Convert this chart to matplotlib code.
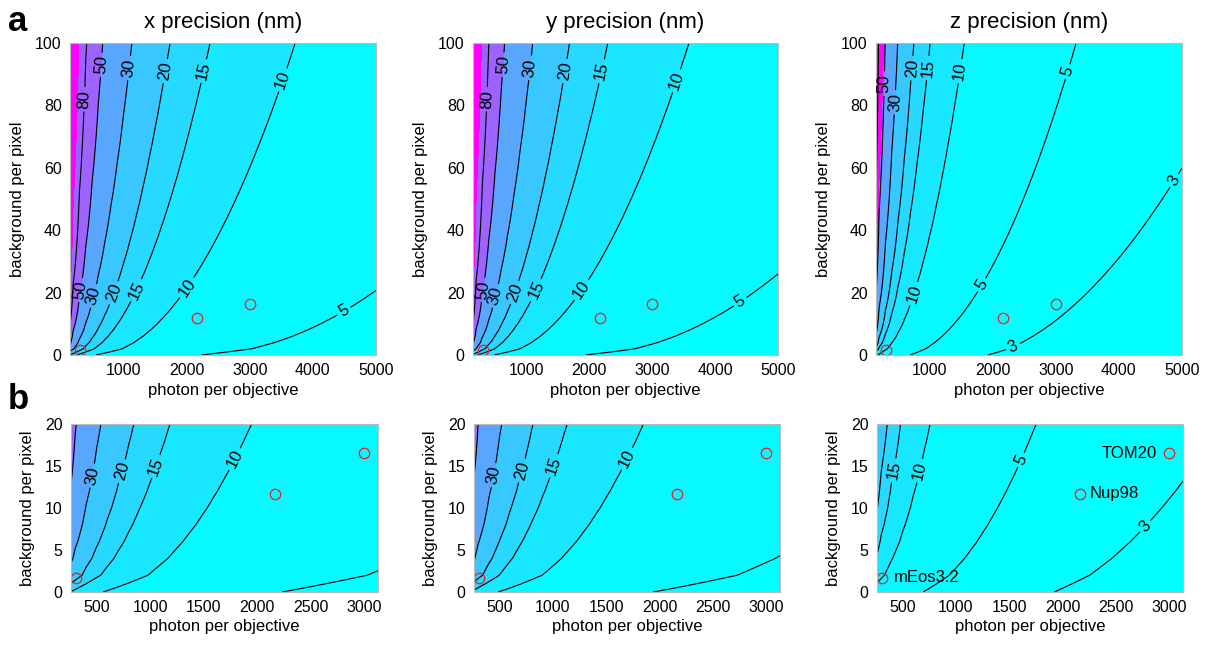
import numpy as np
import matplotlib
matplotlib.use('Agg')
import matplotlib.pyplot as plt

plt.rcParams['font.family'] = ['Liberation Sans', 'DejaVu Sans']

# grid used for the CRLB maps
photons = np.arange(100, 5001, 100)
background = np.arange(0, 101, 2)

# per-axis CRLB model: var = A/N * (1 + 4t + c*sqrt(2t/(1+4t))), t = k*b/N
axis_names = ['x', 'y', 'z']
signal_term = [55800, 48500, 17300]
bg_coupling = [46.7, 51.4, 30.0]
shot_mix = [1.0, 1.0, 0.3]
magenta_from = [115, 115, 56]

levels = [3, 5, 10, 15, 20, 30, 50, 80]

# measured probes
sample_names = ['mEos3.2', 'Nup98', 'TOM20']
sample_photons = [310, 2165, 3000]
sample_background = [1.7, 11.7, 16.5]

# where the contour labels go, (photons, background)
labels_top = [
    [(328, 82), (620, 93), (1072, 92), (1657, 91), (2268, 91), (3542, 88),
     (274, 21), (514, 19), (833, 20), (1178, 21), (1975, 22), (4447, 15.5)],
    [(368, 82), (632, 93), (1079, 92), (1605, 91), (2184, 91), (3368, 88),
     (263, 21), (500, 19), (816, 20), (1132, 21), (1868, 21), (4368, 18)],
    [(279, 87), (462, 81), (698, 92), (961, 92), (1475, 91), (3164, 91),
     (4870, 56), (701, 20), (1823, 22.5), (2321, 2.7)],
]
labels_bottom = [
    [(441, 13.9), (705, 14.5), (1017, 15.1), (1748, 16.1)],
    [(445, 13.9), (697, 14.5), (998, 15.1), (1658, 16.1)],
    [(408, 14.5), (638, 14.5), (1617, 15.7), (2780, 7.8)],
]


def precision(A, k, c):
    N, B = np.meshgrid(photons, background)
    t = k * B / N
    var = A / N * (1 + 4 * t + c * np.sqrt(2 * t / (1 + 4 * t)))
    return N, B, np.sqrt(var)


def band_fill(top):
    # bands take the 'cool' colour of their lower level; everything above
    # 50 stays purple until the magenta cap
    cmap = plt.get_cmap('cool')
    bounds = sorted(set(levels + [top]))
    bounds = [0] + bounds + [1e6]
    colors = []
    for lo in bounds[:-1]:
        if lo >= top:
            colors.append('#ff00ff')
        else:
            colors.append(cmap(np.clip((min(lo, 50) - 3) / 77.0, 0, 1)))
    return bounds, colors


fig = plt.figure(figsize=(12.11, 6.49), dpi=100)
W, H = 1211.0, 649.0
top_boxes = [(70, 43, 306, 312), (473, 43, 305, 312), (876, 43, 306, 312)]
bot_boxes = [(71, 424, 307, 168), (474, 424, 306, 168), (877, 424, 306, 168)]


def make_ax(box):
    x, y, w, h = box
    return fig.add_axes([x / W, 1 - (y + h) / H, w / W, h / H])


def style(ax):
    ax.tick_params(length=0, labelsize=11.5, pad=6)
    for s in ax.spines.values():
        s.set_color('#bbbbbb')
        s.set_linewidth(0.8)
    ax.set_xlabel('photon per objective', fontsize=12, labelpad=3)
    ax.set_ylabel('background per pixel', fontsize=12, labelpad=7)


for i, name in enumerate(axis_names):
    N, B, Z = precision(signal_term[i], bg_coupling[i], shot_mix[i])
    bounds, colors = band_fill(magenta_from[i])

    for row, box in enumerate([top_boxes[i], bot_boxes[i]]):
        ax = make_ax(box)
        ax.contourf(N, B, Z, levels=bounds, colors=colors)
        cs = ax.contour(N, B, Z, levels=levels, colors='k', linewidths=0.8)
        ax.plot(sample_photons, sample_background, 'o', mfc='none',
                mec='#e8202a', ms=7.5, mew=0.9)
        if row == 0:
            ax.set_xlim(150, 5000)
            ax.set_ylim(0, 100)
            ax.set_xticks([1000, 2000, 3000, 4000, 5000])
            ax.set_yticks([0, 20, 40, 60, 80, 100])
            ax.set_title(f'{name} precision (nm)', fontsize=16, pad=11)
            manual = labels_top[i]
        else:
            ax.set_xlim(260, 3130)
            ax.set_ylim(0, 20)
            ax.set_xticks([500, 1000, 1500, 2000, 2500, 3000])
            ax.set_yticks([0, 5, 10, 15, 20])
            manual = labels_bottom[i]
        style(ax)
        ax.clabel(cs, manual=manual, inline=True, fontsize=12, fmt='%d',
                  inline_spacing=3)

        if row == 1 and name == 'z':
            offsets = [(8, 0, 'left'), (7, 0, 'left'), (-9, 0, 'right')]
            for lab, n, b, (dx, dy, ha) in zip(sample_names, sample_photons,
                                               sample_background, offsets):
                ax.annotate(lab, (n, b), xytext=(dx, dy),
                            textcoords='offset points', ha=ha, va='center',
                            fontsize=12)

fig.text(8 / W, 1 - 5 / H, 'a', fontsize=25, fontweight='bold', va='top')
fig.text(8 / W, 1 - 383 / H, 'b', fontsize=25, fontweight='bold', va='top')

fig.savefig('out.png', dpi=100)
